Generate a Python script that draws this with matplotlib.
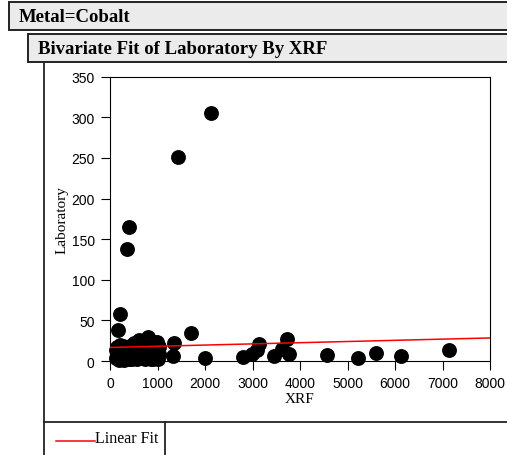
import numpy as np
import matplotlib
matplotlib.use("Agg")
import matplotlib.pyplot as plt
from matplotlib.patches import Rectangle
from matplotlib.lines import Line2D

# XRF vs laboratory readings for cobalt
xrf = [2130, 1430, 400, 365, 205, 175, 1705, 1995, 1355, 1335,
       2790, 2995, 3137, 3090, 3453, 3630, 3735, 3770,
       4575, 5228, 5600, 6133, 7137,
       150, 180, 230, 300, 350, 420, 480, 530, 600, 620,
       660, 700, 760, 800, 850, 880, 920, 960, 1000, 1040,
       560, 400, 250, 120, 700, 900, 1000, 130, 980, 1030,
       200, 280, 330, 450, 510, 580, 650, 720, 780, 830,
       870, 940, 1010, 470, 300, 180, 640, 740]
lab = [305, 251, 165, 138, 58, 38.5, 34, 4, 22.5, 6,
       5.5, 8.5, 20.5, 13, 6.5, 14.5, 26.5, 8.5,
       7.5, 3.7, 10, 5.7, 14,
       17, 10, 5, 14, 8, 18, 6, 12, 20, 26,
       4, 15, 22, 30, 9, 18, 24, 6, 13, 9,
       3, 2, 12, 4, 8, 3, 20, 13, 24, 17,
       20, 18, 3, 10, 22, 15, 18, 25, 12, 20,
       3, 16, 2, 2, 1, 1, 10, 3]

# linear fit coefficients (intercept, slope)
fit_b0 = 16.7
fit_b1 = 0.00146

x_ticks = [0, 1000, 2000, 3000, 4000, 5000, 6000, 7000, 8000]
y_ticks = [0, 50, 100, 150, 200, 250, 300, 350]

W, H = 507, 456
serif = "Liberation Serif"
sans = "Liberation Sans"


def fx(px):
    return px / W


def fy(py):
    return 1 - py / H


fig = plt.figure(figsize=(W / 100, H / 100), dpi=100)

# report headers
for x0, y0, y1, label, tx in [(9, 3.3, 30.7, "Metal=Cobalt", 19),
                              (28, 35, 62.7, "Bivariate Fit of Laboratory By XRF", 38)]:
    fig.add_artist(Rectangle((fx(x0), fy(y1)), fx(W + 20 - x0), fy(y0) - fy(y1),
                             transform=fig.transFigure, facecolor="#ebebeb",
                             edgecolor="#222222", lw=1.4))
    fig.text(fx(tx), fy((y0 + y1) / 2 + 0.5), label, family=serif, weight="bold",
             fontsize=13.5, va="center", ha="left")

# panel frame and legend box
fig.add_artist(Line2D([fx(43.5), fx(43.5)], [fy(63.5), fy(460)], color="#222222", lw=1.3))
fig.add_artist(Line2D([fx(43.5), fx(W + 5)], [fy(423), fy(423)], color="#222222", lw=1.3))
fig.add_artist(Line2D([fx(165), fx(165)], [fy(423), fy(460)], color="#222222", lw=1.3))
fig.add_artist(Line2D([fx(56), fx(95)], [fy(441.5), fy(441.5)], color="red", lw=1.1))
fig.text(fx(95), fy(443.5), "Linear Fit", family=serif, fontsize=11.5, va="baseline")

ax = fig.add_axes([fx(110), fy(362), fx(490) - fx(110), fy(77.7) - fy(362)])
ax.scatter(xrf, lab, s=115, color="black", zorder=3, clip_on=False, linewidths=0)

xs = np.array([0, 8000])
ax.plot(xs, fit_b0 + fit_b1 * xs, color="red", lw=1.1, zorder=4)

ax.set_xlim(0, 8000)
ax.set_ylim(0, 350)
ax.set_xticks(x_ticks)
ax.set_yticks(y_ticks)
ax.tick_params(direction="out", length=6.5, width=0.8, pad=4.5, labelsize=10)
for lbl in ax.get_xticklabels() + ax.get_yticklabels():
    lbl.set_family(sans)
for sp in ax.spines.values():
    sp.set_linewidth(0.8)

ax.set_xlabel("XRF", family=serif, fontsize=11, labelpad=1.5)
ax.set_ylabel("Laboratory", family=serif, fontsize=11)
ax.yaxis.set_label_coords(-0.11, 0.5)

fig.savefig("out.png", dpi=100)
